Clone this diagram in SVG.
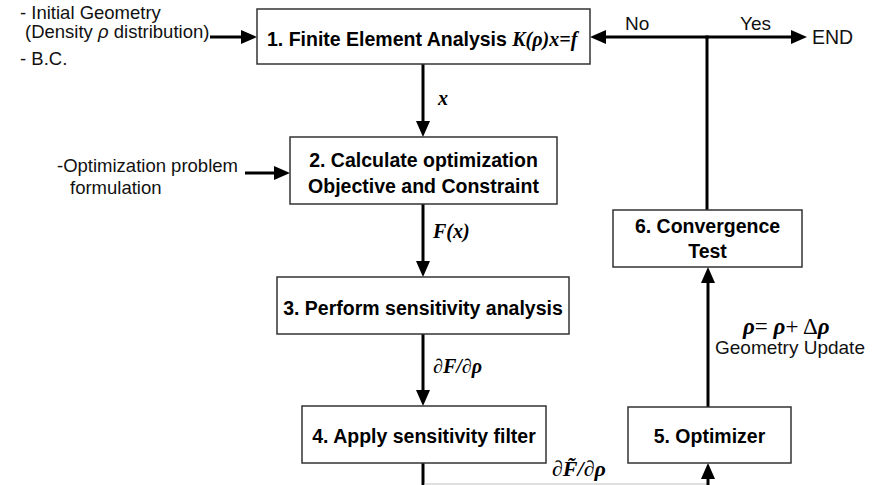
<svg xmlns="http://www.w3.org/2000/svg" width="884" height="485" viewBox="0 0 884 485">
  <defs>
    <marker id="ah" markerUnits="userSpaceOnUse" markerWidth="16" markerHeight="14" refX="8" refY="7" orient="auto">
      <path d="M0,0 L16,7 L0,14 Z" fill="#000"/>
    </marker>
    <style>
      .box { fill: #fff; stroke: #333; stroke-width: 1.5; }
      .bt { font-family: "Liberation Sans", Arial, sans-serif; font-weight: bold; font-size: 19.5px; fill: #000; }
      .t { font-family: "Liberation Sans", Arial, sans-serif; font-size: 18.5px; fill: #111; }
      .m { font-family: "Liberation Serif", "Times New Roman", serif; font-weight: bold; font-style: italic; font-size: 20px; fill: #000; }
      .mr { font-family: "Liberation Serif", "Times New Roman", serif; font-weight: normal; font-style: normal; }
      .c { fill: none; stroke: #000; stroke-width: 3; }
      .ca { fill: none; stroke: #000; stroke-width: 3; marker-end: url(#ah); }
    </style>
  </defs>

  <rect width="884" height="485" fill="#fff"/>

  <g id="connectors">
    <path class="ca" d="M210,37 H249"/>
    <path class="ca" d="M245,173 H282"/>
    <path class="ca" d="M423,64 V129"/>
    <path class="ca" d="M423,204 V269"/>
    <path class="ca" d="M423,334 V398"/>
    <path class="c" d="M423,463 V485"/>
    <path d="M424.5,484 H707" stroke="#d4d4d4" stroke-width="1.5" fill="none"/>
    <path class="ca" d="M708,485 V471"/>
    <path class="ca" d="M708,407 V275"/>
    <path class="c" d="M707,210 V37"/>
    <path class="ca" d="M708.5,37 H598"/>
    <path class="ca" d="M705.5,37 H799"/>
  </g>

  <g id="labels">
    <text class="t" x="20" y="19">- Initial Geometry</text>
    <text class="t" x="25" y="38">(Density <tspan font-style="italic">ρ</tspan> distribution)</text>
    <text class="t" x="20" y="65">- B.C.</text>
    <text class="t" x="57" y="172">-Optimization problem</text>
    <text class="t" x="70" y="194">formulation</text>
    <text class="t" x="625" y="30" style="font-size:19px">No</text>
    <text class="t" x="740" y="30" style="font-size:19px">Yes</text>
    <text class="t" x="812" y="44" style="font-size:19.5px">END</text>
    <text class="m" x="438" y="105">x</text>
    <text class="m" x="433" y="238">F(x)</text>
    <text class="m" x="433" y="373">∂F/∂ρ</text>
    <text class="m" x="552" y="476" style="font-size:22px">∂F̃/∂ρ</text>
    <text class="m" x="743" y="334" style="font-size:23px">ρ<tspan class="mr">= </tspan>ρ<tspan class="mr">+ Δ</tspan>ρ</text>
    <text class="t" x="715" y="354" style="font-size:19px">Geometry Update</text>
  </g>

  <g id="node1">
    <rect class="box" x="257" y="9" width="333" height="55"/>
    <text class="bt" x="267" y="46">1. Finite Element Analysis <tspan class="m">K(ρ)x=f</tspan></text>
  </g>

  <g id="node2">
    <rect class="box" x="290" y="137" width="267" height="67"/>
    <text class="bt" x="423.5" y="167" text-anchor="middle">2. Calculate optimization</text>
    <text class="bt" x="423.5" y="193" text-anchor="middle">Objective and Constraint</text>
  </g>

  <g id="node3">
    <rect class="box" x="277" y="277" width="292" height="57"/>
    <text class="bt" x="423" y="315" text-anchor="middle">3. Perform sensitivity analysis</text>
  </g>

  <g id="node4">
    <rect class="box" x="302" y="406" width="244" height="57"/>
    <text class="bt" x="424" y="443" text-anchor="middle">4. Apply sensitivity filter</text>
  </g>

  <g id="node5">
    <rect class="box" x="628" y="407" width="163" height="56"/>
    <text class="bt" x="709.5" y="443" text-anchor="middle">5. Optimizer</text>
  </g>

  <g id="node6">
    <rect class="box" x="613" y="210" width="189" height="57"/>
    <text class="bt" x="707.5" y="233" text-anchor="middle">6. Convergence</text>
    <text class="bt" x="707.5" y="258" text-anchor="middle">Test</text>
  </g>
</svg>
